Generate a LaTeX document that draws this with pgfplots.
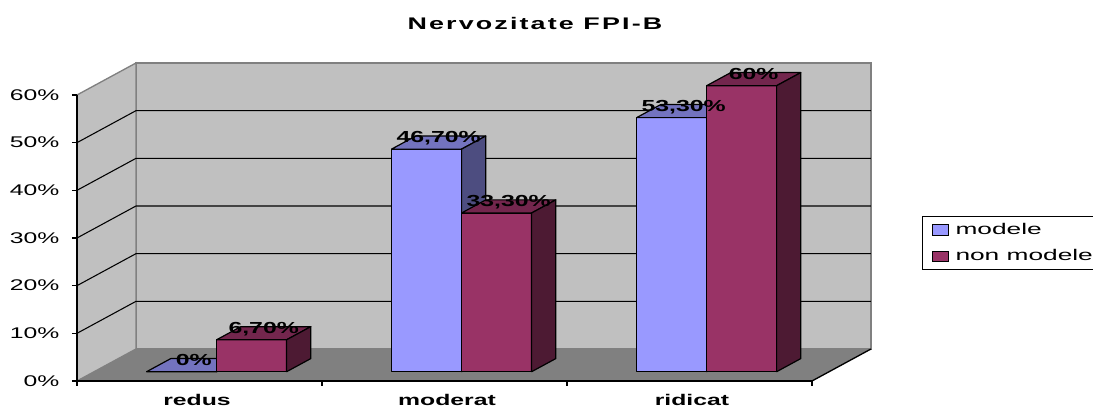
\documentclass[border=0pt]{standalone}
\usepackage{fontspec}
\setmainfont{Liberation Sans}
\newfontfamily\titlefont[LetterSpace=8]{Liberation Sans}
\usepackage{graphicx}
\usepackage{pgfplots}
\pgfplotsset{compat=1.18}

\definecolor{wallc}{HTML}{C0C0C0}
\definecolor{floorc}{HTML}{808080}
\definecolor{edgec}{HTML}{808080}
\definecolor{bF}{HTML}{9999FF}
\definecolor{bT}{HTML}{7373BF}
\definecolor{bS}{HTML}{4D4D80}
\definecolor{rF}{HTML}{993366}
\definecolor{rT}{HTML}{73264D}
\definecolor{rS}{HTML}{4D1A33}

\newcommand\st[1]{\scalebox{1.6}[1]{#1}}
\newcommand\txt{\fontsize{11.6}{13.9}\selectfont}
\newcommand\dlab[1]{\fontsize{12}{14}\selectfont\bfseries\scalebox{1.55}[1]{#1}}

% #1 left x of bar (front plane), #2 value (%), #3 front, #4 top, #5 side colour
\newcommand\tdbar[5]{%
 \pgfmathsetmacro\xl{#1+0.0698}%
 \pgfmathsetmacro\xr{\xl+0.2857}%
 \pgfmathsetmacro\yt{1.947+#2}%
 \pgfmathsetmacro\xlb{\xl+0.0987}%
 \pgfmathsetmacro\xrb{\xr+0.0987}%
 \pgfmathsetmacro\ytb{\yt+2.752}%
 \edef\tmp{%
  \noexpand\addplot[fill=#3,draw=black,line width=0.9pt,line join=round,forget plot] coordinates {(\xl,1.947) (\xr,1.947) (\xr,\yt) (\xl,\yt)} -- cycle;
  \noexpand\addplot[fill=#4,draw=black,line width=0.9pt,line join=round,forget plot] coordinates {(\xl,\yt) (\xr,\yt) (\xrb,\ytb) (\xlb,\ytb)} -- cycle;
  \noexpand\addplot[fill=#5,draw=black,line width=0.9pt,line join=round,forget plot] coordinates {(\xr,1.947) (\xrb,4.699) (\xrb,\ytb) (\xr,\yt)} -- cycle;
 }\tmp}
% data label: #1 left x of bar, #2 value, #3 text
\newcommand\tdlab[3]{%
 \pgfmathsetmacro\lx{#1+0.0698+0.14285+0.04935}%
 \pgfmathsetmacro\ly{1.947+#2+1.376}%
 \edef\tmp{\noexpand\node[anchor=base,inner sep=0pt] at (axis cs:\lx,\ly) {\noexpand\dlab{\unexpanded{#3}}};}\tmp}

\begin{document}
\begin{tikzpicture}
\useasboundingbox (-57.75pt,-21pt) rectangle (762pt,285.75pt);
\begin{axis}[
 at={(0pt,0pt)}, anchor=origin,
 x=183.75pt, y=3.575pt,
 xmin=0, xmax=3, ymin=0, ymax=60,
 axis lines=left,
 axis line style={-, line width=1.3pt, black},
 clip=false, axis on top,
 tick align=outside, major tick length=3.75pt,
 tick style={black, line width=1pt},
 xtick={0,1,2,3}, xticklabels={,,,},
 extra x ticks={0.49,1.51,2.51},
 extra x tick labels={\st{\textbf{redus}},\st{\textbf{moderat}},\st{\textbf{ridicat}}},
 extra x tick style={major tick length=0pt, tick label style={yshift=-6.5pt}},
 xticklabel style={font=\txt},
 ytick={0,10,20,30,40,50,60},
 yticklabels={\st{0\%},\st{10\%},\st{20\%},\st{30\%},\st{40\%},\st{50\%},\st{60\%}},
 yticklabel style={font=\txt, xshift=-6pt},
 legend style={at={(1.1497,0.577)}, anchor=north west, draw=black, line width=0.8pt,
   fill=white, font=\txt, row sep=6pt, inner xsep=7pt, inner ysep=3pt,
   /tikz/every odd column/.append style={column sep=3pt}},
 legend cell align=left,
]
% back wall, side wall, floor
\addplot[fill=wallc, draw=edgec, line width=1pt, forget plot] coordinates {(0.2408,6.713) (3.2408,6.713) (3.2408,66.713) (0.2408,66.713)} -- cycle;
\addplot[fill=wallc, draw=edgec, line width=1pt, forget plot] coordinates {(0,0) (0.2408,6.713) (0.2408,66.713) (0,60)} -- cycle;
\addplot[fill=floorc, draw=none, forget plot] coordinates {(0,0) (3,0) (3.2408,6.713) (0.2408,6.713)} -- cycle;
\addplot[black, line width=1pt, forget plot] coordinates {(3,0) (3.2408,6.713)};
% gridlines
\addplot[black, line width=0.8pt, forget plot] coordinates {(0,10) (0.2408,16.713) (3.2408,16.713)};
\addplot[black, line width=0.8pt, forget plot] coordinates {(0,20) (0.2408,26.713) (3.2408,26.713)};
\addplot[black, line width=0.8pt, forget plot] coordinates {(0,30) (0.2408,36.713) (3.2408,36.713)};
\addplot[black, line width=0.8pt, forget plot] coordinates {(0,40) (0.2408,46.713) (3.2408,46.713)};
\addplot[black, line width=0.8pt, forget plot] coordinates {(0,50) (0.2408,56.713) (3.2408,56.713)};
% bars: modele (blue), non modele (red)
\tdbar{0.2143}{0}{bF}{bT}{bS}
\tdbar{0.5}{6.7}{rF}{rT}{rS}
\tdbar{1.2143}{46.7}{bF}{bT}{bS}
\tdbar{1.5}{33.3}{rF}{rT}{rS}
\tdbar{2.2143}{53.3}{bF}{bT}{bS}
\tdbar{2.5}{60}{rF}{rT}{rS}
% data labels
\tdlab{0.2143}{0}{0\%}
\tdlab{0.5}{6.7}{6,70\%}
\tdlab{1.2143}{46.7}{46,70\%}
\tdlab{1.5}{33.3}{33,30\%}
\tdlab{2.2143}{53.3}{53,30\%}
\tdlab{2.5}{60}{60\%}
% legend
\addlegendimage{legend image code/.code={\draw[fill=bF,draw=black,line width=0.7pt] (0pt,-4pt) rectangle (12pt,4pt);}}
\addlegendentry{\scalebox{1.7}[1]{modele}}
\addlegendimage{legend image code/.code={\draw[fill=rF,draw=black,line width=0.7pt] (0pt,-4pt) rectangle (12pt,4pt);}}
\addlegendentry{\scalebox{1.7}[1]{non modele}}
% title
\node[font={\titlefont\bfseries\fontsize{12.6}{15}\selectfont}, anchor=center] at (axis cs:1.869,74.9) {\scalebox{1.6}[1]{Nervozitate FPI-B}};
\end{axis}
\end{tikzpicture}
\end{document}
